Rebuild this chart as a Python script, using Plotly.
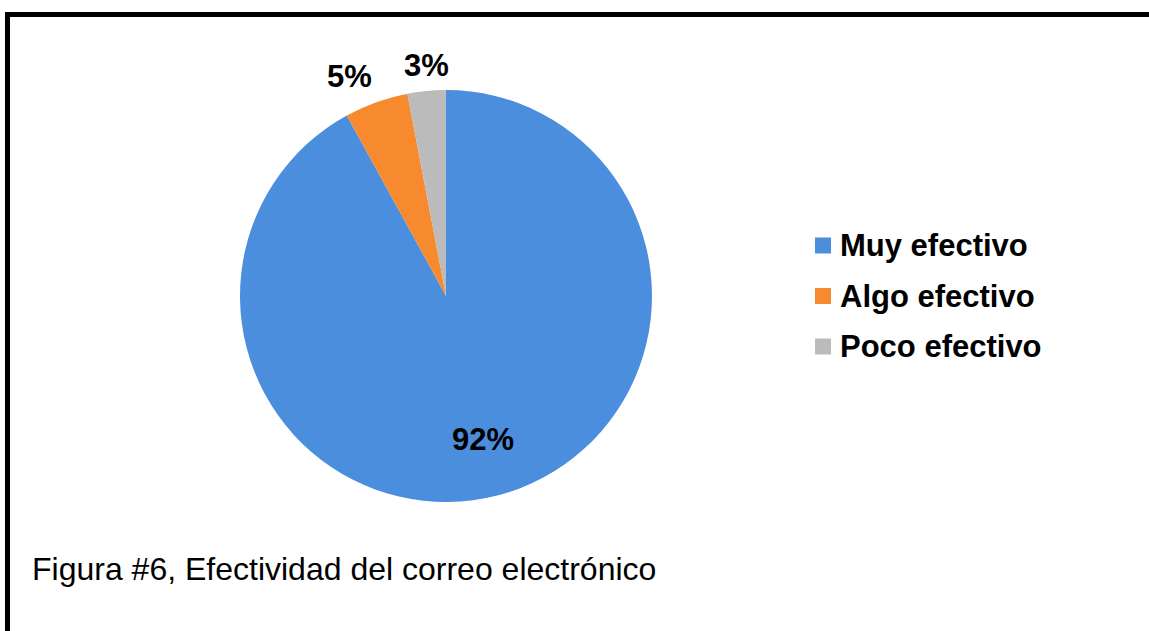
import math
import plotly.graph_objects as go

# Survey answers: how effective is e-mail
labels = ["Muy efectivo", "Algo efectivo", "Poco efectivo"]
values = [92, 5, 3]
colors = ["#4A8EDD", "#F7892F", "#BBBBBB"]
caption = "Figura #6, Efectividad del correo electrónico"

W, H = 1149, 631
cx, cy, R = 446, 296, 206          # pie centre and radius in pixels
FONT = "Liberation Sans, Arial, sans-serif"


def px(x):
    return x / W


def py(y):
    return 1 - y / H


fig = go.Figure(
    go.Pie(
        labels=labels,
        values=values,
        sort=False,
        direction="clockwise",
        rotation=0,
        marker=dict(colors=colors, line=dict(width=0)),
        textinfo="none",
        hoverinfo="label+percent",
        showlegend=False,
        domain=dict(x=[px(cx - R), px(cx + R)], y=[py(cy + R), py(cy - R)]),
    )
)

annotations = []
shapes = []

# Percentage labels placed along each slice's mid-angle
total = sum(values)
cum = 0
for v in values:
    mid = (cum + v / 2) / total
    cum += v
    theta = 2 * math.pi * mid
    s, c = math.sin(theta), math.cos(theta)
    pct = f"{round(100 * v / total)}%"
    if v / total > 0.5:
        r = 0.72 * R
        xa, ya = "center", "middle"
    else:
        r = 1.03 * R
        xa = "right" if s < -0.2 else ("left" if s > 0.2 else "center")
        ya = "bottom" if c > 0.2 else ("top" if c < -0.2 else "middle")
    annotations.append(dict(
        x=px(cx + r * s), y=py(cy - r * c), xref="paper", yref="paper",
        text=pct, showarrow=False, xanchor=xa, yanchor=ya,
        font=dict(family=FONT, size=31, color="black", weight="bold"),
    ))

# Legend: coloured squares with bold labels
leg_x, leg_y0, leg_step, sq = 815, 245.5, 50.5, 16
for i, (lab, col) in enumerate(zip(labels, colors)):
    yc = leg_y0 + i * leg_step
    shapes.append(dict(
        type="rect", xref="paper", yref="paper",
        x0=px(leg_x), x1=px(leg_x + sq), y0=py(yc + sq / 2), y1=py(yc - sq / 2),
        fillcolor=col, line=dict(width=0),
    ))
    annotations.append(dict(
        x=px(leg_x + sq + 7), y=py(yc), xref="paper", yref="paper",
        text=lab, showarrow=False, xanchor="left", yanchor="middle",
        font=dict(family=FONT, size=31, color="black", weight="bold"),
    ))

# Caption
annotations.append(dict(
    x=px(30), y=py(569), xref="paper", yref="paper", text=caption,
    showarrow=False, xanchor="left", yanchor="middle",
    font=dict(family=FONT, size=32, color="black"),
))

# Frame along the top and left edges
shapes.append(dict(
    type="path", xref="paper", yref="paper",
    path=f"M {px(7.5)},{py(660)} L {px(7.5)},{py(14.5)} L {px(1180)},{py(14.5)}",
    line=dict(color="black", width=5),
))

fig.update_layout(
    width=W, height=H,
    margin=dict(l=0, r=0, t=0, b=0),
    paper_bgcolor="white", plot_bgcolor="white",
    annotations=annotations, shapes=shapes,
    showlegend=False,
)

fig.write_html("out.html", config={"displayModeBar": False})
